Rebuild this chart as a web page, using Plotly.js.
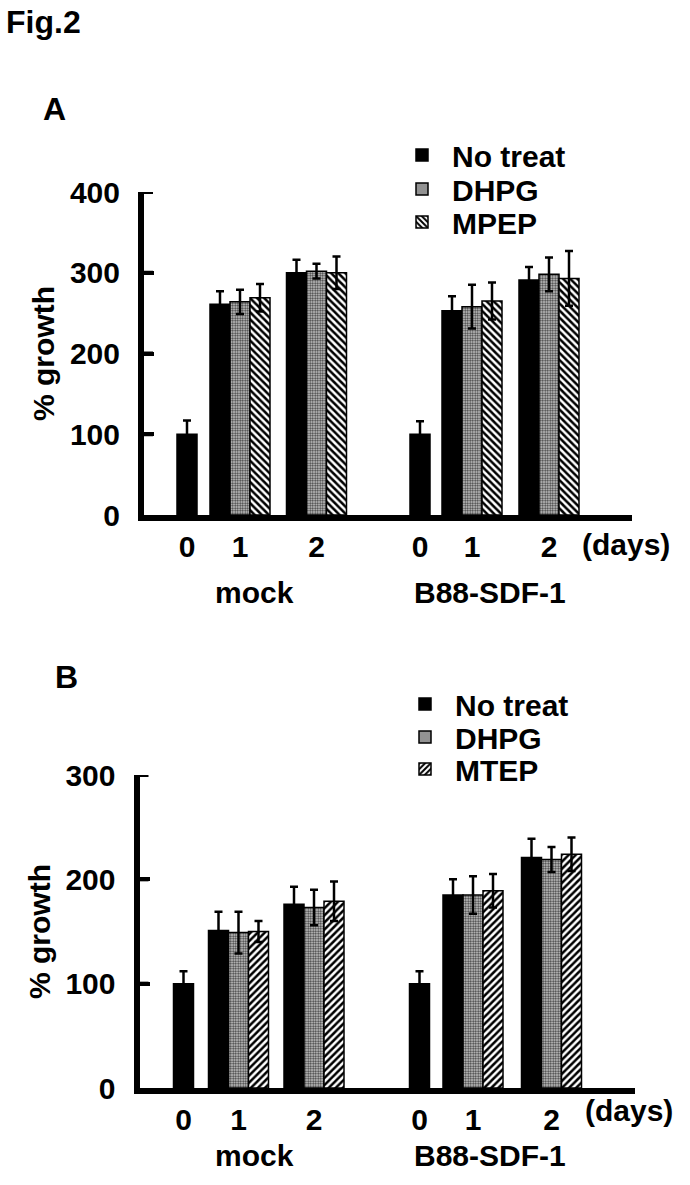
<!DOCTYPE html>
<html>
<head>
<meta charset="utf-8">
<script src="https://cdn.plot.ly/plotly-3.0.1.min.js"></script>
<style>html,body{margin:0;padding:0;background:#fff;}#chart{width:690px;height:1185px;}</style>
</head>
<body>
<div id="chart"></div>
<script>
// ---------- data ----------
const cellLines = ['mock', 'B88-SDF-1'];
const dayLabels = ['0', '1', '2'];
const seriesA = ['No treat', 'DHPG', 'MPEP'];
const seriesB = ['No treat', 'DHPG', 'MTEP'];

// Panel A (order: mock d0,d1,d2, B88-SDF-1 d0,d1,d2)
const aNoTreat    = [100, 261, 300, 100, 253, 291];
const aNoTreatErr = [17, 16, 16, 16, 18, 16];
const aDHPG       = [null, 264, 302, null, 258, 298];
const aDHPGErr    = [null, 15, 9, null, 27, 21];
const aMPEP       = [null, 269, 300, null, 265, 293];
const aMPEPErr    = [null, 17, 20, null, 23, 34];

// Panel B
const bNoTreat    = [100, 151, 176, 100, 185, 221];
const bNoTreatErr = [12, 18, 17, 12, 15, 18];
const bDHPG       = [null, 149, 173, null, 185, 219];
const bDHPGErr    = [null, 20, 17, null, 18, 12];
const bMTEP       = [null, 150, 179, null, 189, 224];
const bMTEPErr    = [null, 10, 19, null, 16, 16];

const yTicksA = [0, 100, 200, 300, 400];
const yTicksB = [0, 100, 200, 300];

// ---------- layout helpers ----------
const W = 690, H = 1185;
const px = x => x / W;
const py = y => 1 - y / H;
const FONT = 'Liberation Sans, Arial, sans-serif';
const bold = (size) => ({family: FONT, size: size, color: '#000', weight: 'bold'});

// group centres (axis units) for each panel
const centersA = [43, 96, 172.5, 276, 328, 405];
const centersB = [44, 99, 174.5, 280, 333.5, 412];
const BW = 20;

const tickText = cellLines.flatMap(() => dayLabels);

function makeTraces(vals, errs, names, centers, xa, ya, legends, stripe) {
  const traces = [];
  vals.forEach((v, s) => {
    let marker;
    if (s === 0) marker = {color: '#000'};
    else if (s === 1) marker = {color: '#a0a0a0', pattern: {shape: '.', bgcolor: '#d6d6d6', fgcolor: '#3c3c3c', size: 2.5, solidity: 0.5}};
    else marker = {color: '#000', pattern: {shape: stripe, bgcolor: '#ffffff', fgcolor: '#000000', size: 5, solidity: 0.5}};
    marker.line = {color: '#000', width: 1.5};
    const offsets = v.map((val, i) => {
      const oneBar = vals[1][i] === null;
      return oneBar ? -BW / 2 : (-1.5 + s) * BW;
    });
    traces.push({
      type: 'bar',
      name: names[s],
      x: centers,
      y: v,
      width: BW,
      offset: offsets,
      marker: marker,
      error_y: {type: 'data', array: errs[s], visible: true, color: '#000', thickness: 2.5, width: 4},
      xaxis: xa, yaxis: ya,
      legend: legends[s],
      showlegend: true
    });
  });
  return traces;
}

const data = [].concat(
  makeTraces([aNoTreat, aDHPG, aMPEP], [aNoTreatErr, aDHPGErr, aMPEPErr], seriesA, centersA, 'x', 'y', ['legend', 'legend2', 'legend3'], '\\'),
  makeTraces([bNoTreat, bDHPG, bMTEP], [bNoTreatErr, bDHPGErr, bMTEPErr], seriesB, centersB, 'x2', 'y2', ['legend4', 'legend5', 'legend6'], '/')
);

function legendAt(xPix, yPix) {
  return {x: px(xPix), y: py(yPix), xanchor: 'left', yanchor: 'middle', xref: 'paper', yref: 'paper',
          font: bold(30), itemwidth: 50, bgcolor: 'rgba(0,0,0,0)', borderwidth: 0, itemclick: false};
}

const axisCommonX = {
  showline: true, linewidth: 6, linecolor: '#000', showgrid: false, zeroline: false,
  ticks: '', tickfont: bold(30), ticklabelstandoff: 0, fixedrange: true
};
const axisCommonY = {
  showline: true, linewidth: 6, linecolor: '#000', showgrid: false, zeroline: false,
  ticks: 'inside', ticklen: 10, tickwidth: 4, tickcolor: '#000000', tickfont: bold(30),
  ticklabelstandoff: 12, fixedrange: true
};

// short inward tick marks drawn at each y tick value
function tickShapes(ticks, xref, yref, frac) {
  return ticks.filter(t => t > 0).map(t => ({
    type: 'line', xref: xref + ' domain', yref: yref, x0: 0, x1: frac, y0: t, y1: t,
    line: {color: '#000', width: 4}, layer: 'above'
  }));
}

const layout = {
  width: W, height: H,
  margin: {l: 0, r: 0, t: 0, b: 0},
  paper_bgcolor: '#fff', plot_bgcolor: 'rgba(0,0,0,0)',
  barmode: 'overlay',
  xaxis: Object.assign({}, axisCommonX, {domain: [px(144), px(632)], anchor: 'y', range: [0, 488],
    tickmode: 'array', tickvals: centersA, ticktext: tickText}),
  yaxis: Object.assign({}, axisCommonY, {domain: [py(515), py(192)], anchor: 'x', range: [0, 400],
    tickmode: 'array', tickvals: yTicksA, ticktext: yTicksA.map(String),
    title: {text: '% growth', font: bold(30), standoff: 8}}),
  xaxis2: Object.assign({}, axisCommonX, {domain: [px(139.5), px(635)], anchor: 'y2', range: [0, 495.5],
    tickmode: 'array', tickvals: centersB, ticktext: tickText}),
  yaxis2: Object.assign({}, axisCommonY, {domain: [py(1088), py(775)], anchor: 'x2', range: [0, 300],
    tickmode: 'array', tickvals: yTicksB, ticktext: yTicksB.map(String),
    title: {text: '% growth', font: bold(30), standoff: 8}}),
  shapes: [].concat(tickShapes(yTicksA, 'x', 'y', 9 / 488), tickShapes(yTicksB, 'x2', 'y2', 9 / 495.5)),
  legend: legendAt(392, 155),
  legend2: legendAt(392, 189),
  legend3: legendAt(392, 222),
  legend4: legendAt(395, 704),
  legend5: legendAt(395, 737),
  legend6: legendAt(395, 769),
  annotations: [
    {text: 'Fig.2', x: px(4), y: py(22), xanchor: 'left', yanchor: 'middle', font: bold(32)},
    {text: 'A', x: px(41), y: py(109), xanchor: 'left', yanchor: 'middle', font: bold(32)},
    {text: 'B', x: px(53), y: py(677), xanchor: 'left', yanchor: 'middle', font: bold(32)},
    {text: '(days)', x: px(580), y: py(545), xanchor: 'left', yanchor: 'middle', font: bold(30)},
    {text: '(days)', x: px(583), y: py(1110), xanchor: 'left', yanchor: 'middle', font: bold(30)},
    {text: cellLines[0], x: px(255), y: py(592), xanchor: 'center', yanchor: 'middle', font: bold(30)},
    {text: cellLines[1], x: px(490), y: py(592), xanchor: 'center', yanchor: 'middle', font: bold(30)},
    {text: cellLines[0], x: px(255), y: py(1155), xanchor: 'center', yanchor: 'middle', font: bold(30)},
    {text: cellLines[1], x: px(490), y: py(1155), xanchor: 'center', yanchor: 'middle', font: bold(30)}
  ].map(a => Object.assign({xref: 'paper', yref: 'paper', showarrow: false}, a))
};

Plotly.newPlot('chart', data, layout, {staticPlot: true, displayModeBar: false});
</script>
</body>
</html>
